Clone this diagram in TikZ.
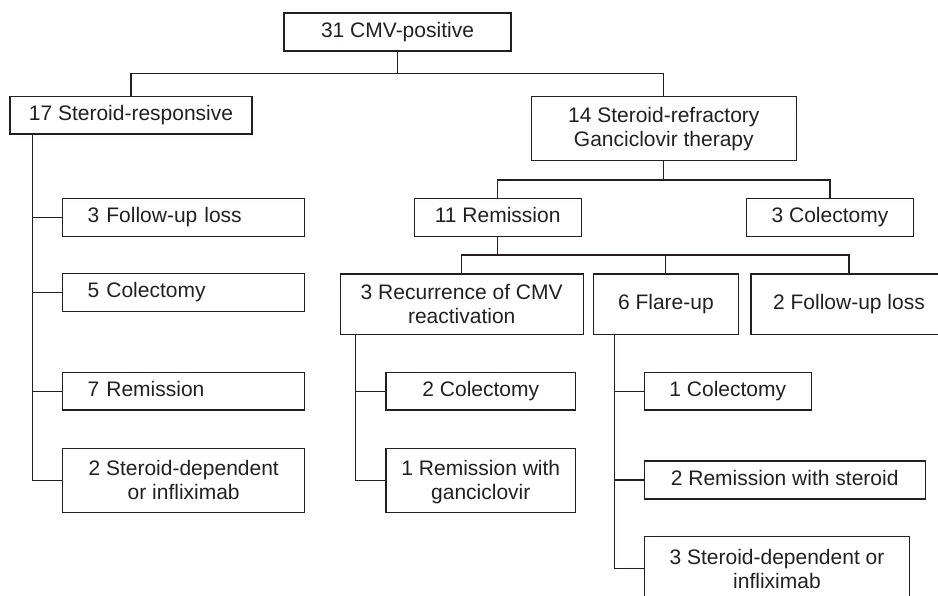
\documentclass[tikz,border=0pt]{standalone}
\usepackage{fontspec}
\setmainfont{Liberation Sans}
\definecolor{inkblack}{RGB}{35,31,32}

\tikzset{
	box/.style={draw=inkblack, text=inkblack, line width=1.1pt, inner sep=0pt, align=center, font=\fontsize{21}{24}\selectfont},
	onebox/.style={box, text height=15pt, text depth=4.5pt},
	leftbox/.style={onebox, align=left, text width=192pt, inner xsep=25pt, minimum height=37.6pt},
	link/.style={draw=inkblack, line width=1.1pt},
}

\begin{document}
\begin{tikzpicture}[x=1pt, y=-1pt]
	\useasboundingbox (0,0) rectangle (938,596);
	% top level
	\node[onebox, minimum width=227pt, minimum height=38pt] (cmv) at (397.5,32) {31 CMV-positive};
	\node[onebox, minimum width=242pt, minimum height=37.5pt] (resp) at (131,115.3) {17 Steroid-responsive};
	\node[box, minimum width=265pt, minimum height=64pt] (refr) at (663.8,128.7) {14 Steroid-refractory\\Ganciclovir therapy};
	% steroid-responsive branch
	\node[leftbox] (lossA) at (183.7,217.5) {3 Follow-up loss};
	\node[leftbox] (colA) at (183.7,292.7) {5 Colectomy};
	\node[leftbox] (remA) at (183.7,391.2) {7 Remission};
	\node[box, minimum width=242pt, minimum height=64.3pt] (depA) at (183.7,480.2) {2 Steroid-dependent\\or infliximab};
	% steroid-refractory branch
	\node[onebox, minimum width=166.7pt, minimum height=37.6pt] (remB) at (497.7,217.5) {11 Remission};
	\node[onebox, minimum width=166.6pt, minimum height=37.6pt] (colB) at (830,217.5) {3 Colectomy};
	\node[box, minimum width=242.7pt, minimum height=60.3pt] (recur) at (461.7,304.2) {3 Recurrence of CMV\\reactivation};
	\node[onebox, minimum width=144.3pt, minimum height=60.3pt] (flare) at (665.9,304.2) {6 Flare-up};
	\node[onebox, minimum width=196pt, minimum height=60.3pt] (lossB) at (849,304.2) {2 Follow-up loss};
	\node[onebox, minimum width=189.7pt, minimum height=37.6pt] (colC) at (480.8,391.2) {2 Colectomy};
	\node[box, minimum width=189.7pt, minimum height=64.3pt] (remC) at (480.8,480.2) {1 Remission with\\\smash{ganciclovir}};
	\node[onebox, minimum width=167pt, minimum height=37.6pt] (colD) at (727.8,391.2) {1 Colectomy};
	\node[onebox, minimum width=280.7pt, minimum height=38pt] (remD) at (784.7,480) {2 Remission with steroid};
	\node[box, minimum width=265.4pt, minimum height=64.3pt] (depD) at (777,568.7) {3 Steroid-dependent or\\infliximab};

	\coordinate (cmvJ) at (397.5,73.3);
	\coordinate (refrJ) at (663.8,180);
	\coordinate (remJ) at (497.7,255);

	\draw[link]
	(cmv) -- (cmvJ) -| (resp)
	(cmvJ) -| (refr)
	(refr) -- (refrJ) -| (remB)
	(refrJ) -| (colB)
	(remB) -- (remJ) -| (recur)
	(remJ) -| (flare)
	(remJ) -| (lossB)
	([xshift=23pt]resp.south west) |- (lossA)
	([xshift=23pt]resp.south west) |- (colA)
	([xshift=23pt]resp.south west) |- (remA)
	([xshift=23pt]resp.south west) |- (depA)
	([xshift=16pt]recur.south west) |- (colC)
	([xshift=16pt]recur.south west) |- (remC)
	([xshift=21pt]flare.south west) |- (colD)
	([xshift=21pt]flare.south west) |- (remD)
	([xshift=21pt]flare.south west) |- (depD)
	;
\end{tikzpicture}
\end{document}
